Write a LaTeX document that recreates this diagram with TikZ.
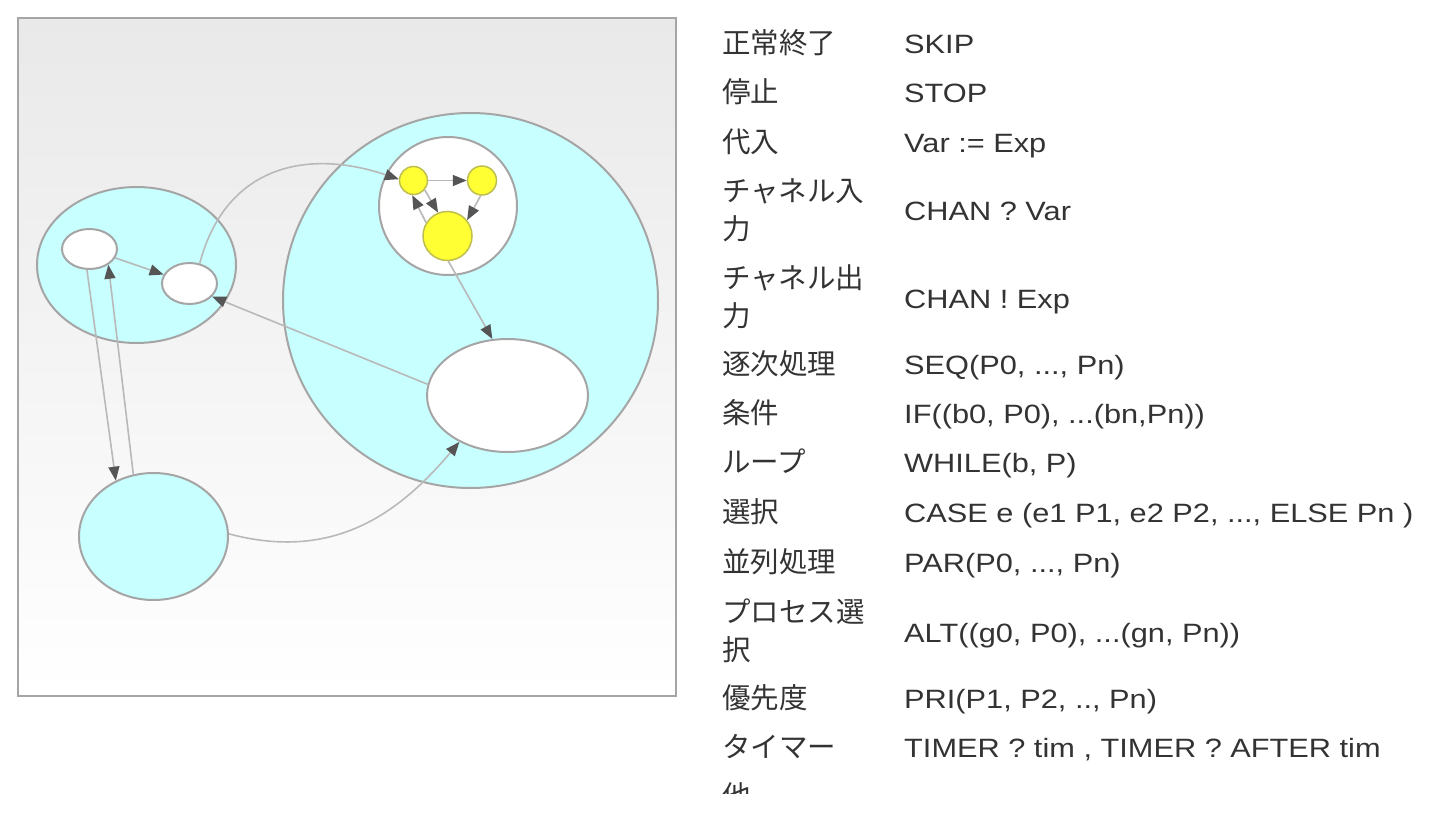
\documentclass[tikz,border=0pt]{standalone}
\usepackage{fontspec}
\setmainfont{Liberation Sans}
\newfontfamily\jpfont{Noto Sans CJK JP}
\newfontfamily\codefont[FakeStretch=1.16]{Liberation Sans}
\usepackage{tikz}
\usetikzlibrary{shapes.geometric, arrows.meta}
\definecolor{cyanfill}{RGB}{200,255,255}
\definecolor{rimgray}{RGB}{165,165,165}
\definecolor{linegray}{RGB}{185,185,185}
\definecolor{tipgray}{RGB}{85,85,85}
\definecolor{procyellow}{RGB}{255,255,51}
\definecolor{yellowrim}{RGB}{190,190,80}
\definecolor{textgray}{RGB}{51,51,51}
\definecolor{bgtop}{RGB}{233,233,233}

\begin{document}
\begin{tikzpicture}[
    x=1pt, y=-1pt,
    group/.style={ellipse, draw=rimgray, fill=cyanfill, line width=2pt, inner sep=0},
    proc/.style={ellipse, draw=rimgray, fill=white, line width=2pt, inner sep=0},
    leaf/.style={circle, draw=yellowrim, fill=procyellow, line width=1.5pt, inner sep=0},
    arrow/.style={-{Triangle[length=14pt, width=11pt, color=tipgray]}, draw=linegray, line width=1.6pt},
    jp/.style={anchor=base west, inner sep=0, text=textgray, font=\jpfont\fontsize{28.5}{38}\selectfont},
    code/.style={anchor=base west, inner sep=0, text=textgray, font=\codefont\fontsize{26.5}{32}\selectfont}
]
\useasboundingbox (0,0) rectangle (1444,830);

% diagram frame
\shade[top color=bgtop, bottom color=white, draw=rimgray, line width=2pt] (18,18) rectangle (676,696);

\node[group, minimum width=199pt, minimum height=156pt] (left) at (136.5,265) {};
\node[group, minimum width=375pt, minimum height=375pt] (right) at (470.5,300.5) {};
\node[group, minimum width=149pt, minimum height=127pt] (lower) at (153.5,536.5) {};

\node[proc, minimum width=55pt, minimum height=40pt] (a1) at (89.5,249) {};
\node[proc, minimum width=55pt, minimum height=41pt] (a2) at (189.5,283.5) {};
\node[proc, minimum width=138pt, minimum height=138pt] (inner) at (448,206) {};
\node[proc, minimum width=161pt, minimum height=113pt] (big) at (507.5,395.5) {};

\node[leaf, minimum size=28pt] (y1) at (413.5,180.5) {};
\node[leaf, minimum size=29pt] (y2) at (482,180.5) {};
\node[leaf, minimum size=49pt] (y3) at (447.5,236) {};

\draw[arrow] (a1) -- (a2);
\draw[arrow] (a1.-97) -- (lower.124);
\draw[arrow] (lower.108) -- (a1.-40);
\draw[arrow] (a2.63) .. controls +(25,-95) and +(-95,-32) .. (y1.175);
\draw[arrow] (y1) -- (y2);
\draw[arrow] (y1.-40) -- (y3.112);
\draw[arrow] (y3.148) -- (y1.-95);
\draw[arrow] (y2.-95) -- (y3.39);
\draw[arrow] (y3.-88) -- (big.105);
\draw[arrow] (big.172) -- (a2.-30);
\draw[arrow] (lower.2) .. controls +(105,28) and +(-60,71) .. (big.224);

% table of constructs
\node[jp] (j1) at (722,53) {正常終了};
\node[jp] (j2) at (722,102) {停止};
\node[jp] (j3) at (722,152) {代入};
\node[jp] (j4a) at (722,201) {チャネル入};
\node[jp] (j4b) at (722,239) {力};
\node[jp] (j5a) at (722,288) {チャネル出};
\node[jp] (j5b) at (722,326) {力};
\node[jp] (j6) at (722,374) {逐次処理};
\node[jp] (j7) at (722,423) {条件};
\node[jp] (j8) at (722,472) {ループ};
\node[jp] (j9) at (722,522) {選択};
\node[jp] (j10) at (722,572) {並列処理};
\node[jp] (j11a) at (722,622) {プロセス選};
\node[jp] (j11b) at (722,660) {択};
\node[jp] (j12) at (722,708) {優先度};
\node[jp] (j13) at (722,757) {タイマー};
\begin{scope}
  \clip (700,0) rectangle (1444,793);
  \node[jp] (j14) at (722,806) {他};
\end{scope}

\node[code] (c1) at (904,53) {SKIP};
\node[code] (c2) at (904,102) {STOP};
\node[code] (c3) at (904,152) {Var := Exp};
\node[code] (c4) at (904,220) {CHAN ? Var};
\node[code] (c5) at (904,308) {CHAN ! Exp};
\node[code] (c6) at (904,374) {SEQ(P0, ..., Pn)};
\node[code] (c7) at (904,423) {IF((b0, P0), ...(bn,Pn))};
\node[code] (c8) at (904,472) {WHILE(b, P)};
\node[code] (c9) at (904,522) {CASE e (e1 P1, e2 P2, ..., ELSE Pn )};
\node[code] (c10) at (904,572) {PAR(P0, ..., Pn)};
\node[code] (c11) at (904,642) {ALT((g0, P0), ...(gn, Pn))};
\node[code] (c12) at (904,708) {PRI(P1, P2, .., Pn)};
\node[code] (c13) at (904,757) {TIMER ? tim , TIMER ? AFTER tim};

\end{tikzpicture}
\end{document}
